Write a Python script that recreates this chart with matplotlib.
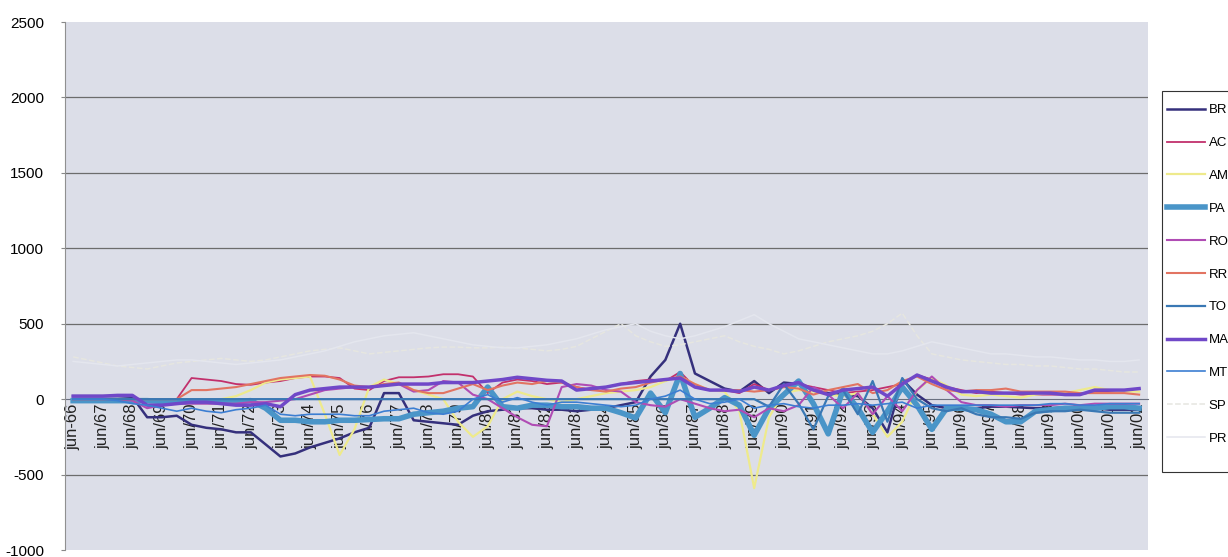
import matplotlib.pyplot as plt
from matplotlib.patches import Rectangle
import numpy as np

plt.rcParams['font.family'] = ['Liberation Sans', 'DejaVu Sans']
plt.rcParams['axes.unicode_minus'] = False

# semiannual points jun/66 .. jun/02, labels on every june
years = ['66', '67', '68', '69', '70', '71', '72', '73', '74', '75', '76', '77', '78', '79',
         '80', '81', '82', '83', '84', '85', '86', '87', '88', '89', '90', '91', '92', '93',
         '94', '95', '96', '97', '98', '99', '00', '01', '02']
tick_labels = ['jun-' + years[0]] + ['jun/' + y for y in years[1:]]

br = [20, 20, 20, 20, 15, -120, -120, -110, -170, -190,
      -200, -220, -220, -300, -380, -360, -320, -290, -260, -220,
      -190, 40, 40, -140, -150, -160, -170, -110, -80, -70,
      -60, -60, -70, -70, -80, -70, -60, -40, -20, 150,
      260, 500, 170, 120, 70, 50, 120, 40, 110, 100,
      60, 40, 30, 20, -60, -220, 130, 30, -40, -60,
      -60, -60, -50, -50, -55, -60, -60, -55, -60, -60,
      -70, -70, -70]
ac = [0, 0, 0, 0, 0, 0, 0, 0, 140, 130,
      120, 100, 95, 110, 120, 140, 150, 150, 140, 70,
      60, 120, 145, 145, 150, 165, 165, 150, 40, 110,
      130, 120, 100, 110, 80, 60, 80, 100, 120, 130,
      120, 180, 80, 60, 60, 40, 100, 60, 80, 100,
      80, 60, 40, 50, 60, 80, 100, 160, 130, 80,
      60, 40, 50, 40, 30, 30, 30, 30, 30, 50,
      50, 60, 70]
am = [0, 0, 0, 0, 0, 0, 0, 0, 0, 0,
      0, 20, 60, 110, 130, 140, 150, -100, -370, -200,
      80, 130, 100, 60, 30, 0, -150, -250, -180, 0,
      50, 20, 0, -20, 0, 20, 40, 50, 60, 80,
      120, 150, 100, 60, 50, -80, -590, -120, 40, 60,
      50, 30, 20, 40, -100, -250, -150, 60, 140, 90,
      30, 20, 30, 20, 10, 30, 40, 40, 60, 80,
      60, 50, 50]
pa = [-10, -10, -10, -10, -10, -10, -15, -15, -15, -15,
      -15, -15, -10, -60, -140, -140, -150, -150, -140, -140,
      -135, -130, -130, -100, -90, -80, -60, -50, 80, -50,
      -60, -40, -40, -50, -50, -60, -60, -90, -125, 40,
      -90, 170, -120, -60, 10, -40, -240, -60, 30, 120,
      -30, -230, 60, -60, -220, -80, 80, -40, -200, -60,
      -60, -70, -100, -150, -150, -80, -70, -60, -60, -60,
      -50, -50, -60]
ro = [0, 0, 0, 0, -10, -60, -40, -30, -30, -30,
      -30, -30, -20, -20, -10, 0, 30, 60, 70, 80,
      80, 90, 100, 50, 60, 120, 110, 30, 0, -60,
      -120, -170, -180, 80, 100, 90, 60, 50, -20, -40,
      -50, 0, -30, -60, -80, -70, -120, -60, -80, -40,
      80, 30, -60, 40, -100, 20, -80, 60, 150, 60,
      -20, -40, -40, -50, -40, -40, -40, -30, -40, -30,
      -30, -30, -30]
rr = [0, 0, 0, 0, 0, 0, 0, 0, 60, 60,
      70, 80, 100, 120, 140, 150, 160, 155, 130, 90,
      80, 100, 110, 60, 40, 40, 70, 100, 60, 90,
      110, 100, 120, 110, 80, 60, 50, 70, 80, 110,
      130, 150, 100, 60, 60, 60, 50, 60, 80, 70,
      30, 60, 80, 100, 40, 60, 120, 150, 100, 60,
      50, 60, 60, 70, 50, 50, 50, 50, 40, 40,
      40, 40, 30]
to = [0] * 46 + [0, -50, 100, -30,
                 -200, 20, 60, -100, 120, -150, 140, 0, -60, -80,
                 -60, -100, -120, -120, -130, -90, -80, -80, -70, -80,
                 -90, -90, -90]
ma = [20, 20, 20, 25, 25, -40, -40, -30, -20, -20,
      -30, -40, -40, -30, -50, 30, 60, 70, 80, 80,
      80, 90, 100, 100, 100, 110, 110, 110, 120, 130,
      145, 135, 125, 120, 60, 70, 80, 100, 110, 120,
      130, 140, 80, 60, 60, 50, 80, 60, 90, 110,
      60, 30, 60, 70, 80, 20, 100, 160, 120, 80,
      50, 50, 40, 40, 40, 40, 40, 30, 30, 60,
      60, 60, 70]
mt = [0, 0, 0, -10, -30, -40, -60, -80, -60, -80,
      -90, -70, -60, -40, -100, -110, -100, -100, -100, -110,
      -110, -80, -70, -60, -90, -100, -80, 0, 30, -20,
      10, -20, -40, -20, -20, -30, -40, -50, -40, 0,
      20, 60, 0, -30, -20, 0, -60, -40, -30, -50,
      -60, -40, -40, -30, -40, -30, -20, -60, -40, -40,
      -40, -40, -40, -40, -40, -40, -30, -30, -40, -40,
      -30, -30, -30]
sp = [280, 260, 240, 220, 210, 200, 220, 240, 250, 260,
      270, 260, 250, 260, 280, 300, 320, 330, 340, 320,
      300, 310, 320, 330, 340, 345, 345, 340, 340, 345,
      340, 330, 320, 330, 350, 400, 450, 500, 420, 380,
      350, 360, 380, 400, 420, 380, 350, 330, 300, 320,
      350, 380, 400, 420, 450, 500, 570, 420, 300, 280,
      260, 250, 240, 230, 230, 220, 220, 210, 200, 200,
      190, 180, 180]
pr = [250, 240, 230, 220, 230, 240, 250, 260, 260, 250,
      240, 230, 240, 250, 260, 280, 300, 320, 350, 380,
      400, 420, 430, 440, 420, 400, 380, 360, 350, 340,
      340, 350, 360, 380, 400, 430, 460, 480, 500, 450,
      420, 400, 420, 450, 480, 520, 560, 500, 450, 400,
      380, 360, 340, 320, 300, 300, 320, 350, 380, 360,
      340, 320, 300, 300, 290, 280, 280, 270, 260, 260,
      250, 250, 260]

names = ['BR', 'AC', 'AM', 'PA', 'RO', 'RR', 'TO', 'MA', 'MT', 'SP', 'PR']
series = [br, ac, am, pa, ro, rr, to, ma, mt, sp, pr]
colors = ['#35307c', '#c2306c', '#eeea8c', '#4a95c8', '#b04cb4', '#e27462',
          '#3a78b4', '#7048c8', '#3c7ed2', '#e6e6e0', '#e4e6ee']
widths = [1.8, 1.3, 1.6, 4.0, 1.5, 1.5, 1.6, 2.5, 1.2, 1.1, 1.1]
styles = ['-', '-', '-', '-', '-', '-', '-', '-', '-', '--', '-']

x = np.arange(len(br))

fig = plt.figure(figsize=(12.28, 5.57), dpi=100)
ax = fig.add_axes([65 / 1228, 7 / 557, 1083 / 1228, 528 / 557])
ax.set_facecolor('#dcdee8')

ax.spines['top'].set_visible(False)
ax.spines['right'].set_visible(False)
ax.spines['bottom'].set_position(('data', 0))
ax.spines['bottom'].set_color('#6a7080')
ax.spines['bottom'].set_zorder(2)
ax.spines['left'].set_color('#909090')

for name, vals, c, lw, ls in zip(names, series, colors, widths, styles):
    ax.plot(x, vals, color=c, lw=lw, ls=ls, label=name, zorder=3)

ax.set_xlim(-0.55, 72.6)
ax.set_ylim(-1000, 2500)
ax.set_yticks(np.arange(-1000, 2501, 500))
ax.tick_params(axis='y', labelsize=11, length=3, pad=12, color='#888888')
for yv in [-500, 500, 1000, 1500, 2000]:
    ax.axhline(yv, color='#6c6c6c', lw=0.9, zorder=1)

ax.set_xticks(x[::2])
ax.set_xticklabels(tick_labels, rotation=90, fontsize=12, color='#222222')
ax.tick_params(axis='x', length=0, pad=3)

# legend frame drawn by hand so it can run past the right edge like the scan
fig.patches.append(Rectangle((1162 / 1228, 1 - 472 / 557), 0.2, 381 / 557,
                             transform=fig.transFigure, fill=True, facecolor='white',
                             edgecolor='#333333', lw=0.8, zorder=0))
fig.legend(loc='upper left', bbox_to_anchor=(1154 / 1228, 1 - 91 / 557),
           fontsize=9.5, frameon=False, handlelength=2.9, handletextpad=0.25,
           labelspacing=1.56, borderpad=1.0, borderaxespad=0)

fig.savefig('out.png', dpi=100)
